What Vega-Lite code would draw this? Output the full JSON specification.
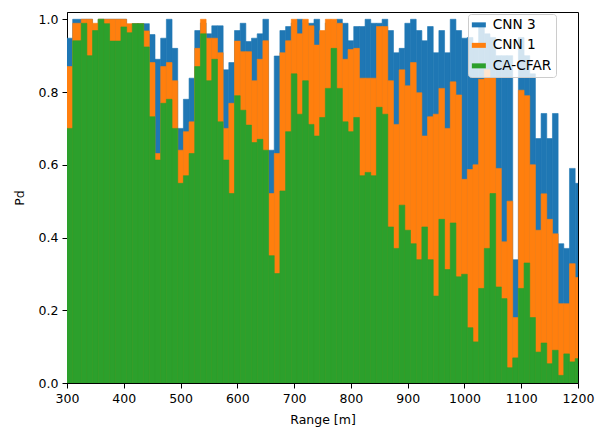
{
  "$schema": "https://vega.github.io/schema/vega-lite/v6.json",
  "autosize": "none",
  "width": 511,
  "height": 371,
  "padding": {"left": 67, "top": 12, "right": 27, "bottom": 52},
  "background": "white",
  "config": {
    "view": {"stroke": "black", "strokeWidth": 1},
    "font": "DejaVu Sans",
    "axis": {
      "labelFont": "DejaVu Sans", "labelFontSize": 12.5, "labelColor": "black", "labelFlush": false,
      "titleFont": "DejaVu Sans", "titleFontSize": 12.5, "titleColor": "black", "titleFontWeight": "normal",
      "domainColor": "black", "tickColor": "black", "tickSize": 5, "labelPadding": 4, "grid": false
    }
  },
  "data": {"values": [
    {"start": 300, "end": 310, "CNN 3": 0.948, "CNN 1": 0.870, "CA-CFAR": 0.700},
    {"start": 310, "end": 325, "CNN 3": 1.0, "CNN 1": 0.989, "CA-CFAR": 0.941},
    {"start": 325, "end": 335, "CNN 3": 1.0, "CNN 1": 1.0, "CA-CFAR": 0.989},
    {"start": 335, "end": 345, "CNN 3": 1.0, "CNN 1": 1.0, "CA-CFAR": 0.90},
    {"start": 345, "end": 355, "CNN 3": 0.985, "CNN 1": 0.989, "CA-CFAR": 0.969},
    {"start": 355, "end": 365, "CNN 3": 1.0, "CNN 1": 1.0, "CA-CFAR": 1.0},
    {"start": 365, "end": 375, "CNN 3": 1.0, "CNN 1": 1.0, "CA-CFAR": 0.988},
    {"start": 375, "end": 385, "CNN 3": 1.0, "CNN 1": 1.0, "CA-CFAR": 0.94},
    {"start": 385, "end": 395, "CNN 3": 1.0, "CNN 1": 1.0, "CA-CFAR": 0.94},
    {"start": 395, "end": 405, "CNN 3": 1.0, "CNN 1": 1.0, "CA-CFAR": 0.979},
    {"start": 405, "end": 415, "CNN 3": 0.98, "CNN 1": 0.988, "CA-CFAR": 0.963},
    {"start": 415, "end": 425, "CNN 3": 0.988, "CNN 1": 0.988, "CA-CFAR": 0.988},
    {"start": 425, "end": 435, "CNN 3": 0.988, "CNN 1": 0.988, "CA-CFAR": 0.988},
    {"start": 435, "end": 445, "CNN 3": 0.988, "CNN 1": 0.968, "CA-CFAR": 0.924},
    {"start": 445, "end": 455, "CNN 3": 0.958, "CNN 1": 0.881, "CA-CFAR": 0.732},
    {"start": 455, "end": 465, "CNN 3": 0.89, "CNN 1": 0.631, "CA-CFAR": 0.613},
    {"start": 465, "end": 475, "CNN 3": 0.948, "CNN 1": 0.870, "CA-CFAR": 0.769},
    {"start": 475, "end": 485, "CNN 3": 1.0, "CNN 1": 0.881, "CA-CFAR": 0.780},
    {"start": 485, "end": 495, "CNN 3": 0.920, "CNN 1": 0.831, "CA-CFAR": 0.700},
    {"start": 495, "end": 505, "CNN 3": 0.700, "CNN 1": 0.640, "CA-CFAR": 0.549},
    {"start": 505, "end": 515, "CNN 3": 0.780, "CNN 1": 0.691, "CA-CFAR": 0.570},
    {"start": 515, "end": 525, "CNN 3": 0.838, "CNN 1": 0.718, "CA-CFAR": 0.631},
    {"start": 525, "end": 535, "CNN 3": 0.969, "CNN 1": 0.920, "CA-CFAR": 0.870},
    {"start": 535, "end": 545, "CNN 3": 0.99, "CNN 1": 1.0, "CA-CFAR": 0.960},
    {"start": 545, "end": 555, "CNN 3": 0.96, "CNN 1": 0.948, "CA-CFAR": 0.831},
    {"start": 555, "end": 565, "CNN 3": 0.982, "CNN 1": 0.948, "CA-CFAR": 0.89},
    {"start": 565, "end": 575, "CNN 3": 0.982, "CNN 1": 0.908, "CA-CFAR": 0.718},
    {"start": 575, "end": 585, "CNN 3": 0.861, "CNN 1": 0.700, "CA-CFAR": 0.613},
    {"start": 585, "end": 595, "CNN 3": 0.881, "CNN 1": 0.769, "CA-CFAR": 0.521},
    {"start": 595, "end": 605, "CNN 3": 0.969, "CNN 1": 0.940, "CA-CFAR": 0.790},
    {"start": 605, "end": 615, "CNN 3": 0.989, "CNN 1": 0.911, "CA-CFAR": 0.750},
    {"start": 615, "end": 625, "CNN 3": 0.939, "CNN 1": 0.911, "CA-CFAR": 0.709},
    {"start": 625, "end": 635, "CNN 3": 0.948, "CNN 1": 0.831, "CA-CFAR": 0.661},
    {"start": 635, "end": 645, "CNN 3": 0.960, "CNN 1": 0.890, "CA-CFAR": 0.670},
    {"start": 645, "end": 655, "CNN 3": 1.0, "CNN 1": 0.941, "CA-CFAR": 0.640},
    {"start": 655, "end": 665, "CNN 3": 0.640, "CNN 1": 0.521, "CA-CFAR": 0.350},
    {"start": 665, "end": 675, "CNN 3": 0.899, "CNN 1": 0.631, "CA-CFAR": 0.301},
    {"start": 675, "end": 685, "CNN 3": 0.969, "CNN 1": 0.908, "CA-CFAR": 0.528},
    {"start": 685, "end": 695, "CNN 3": 0.98, "CNN 1": 0.941, "CA-CFAR": 0.691},
    {"start": 695, "end": 705, "CNN 3": 0.99, "CNN 1": 1.0, "CA-CFAR": 0.85},
    {"start": 705, "end": 715, "CNN 3": 1.0, "CNN 1": 0.960, "CA-CFAR": 0.739},
    {"start": 715, "end": 725, "CNN 3": 0.99, "CNN 1": 1.0, "CA-CFAR": 0.831},
    {"start": 725, "end": 735, "CNN 3": 0.989, "CNN 1": 0.982, "CA-CFAR": 0.711},
    {"start": 735, "end": 745, "CNN 3": 1.0, "CNN 1": 0.929, "CA-CFAR": 0.679},
    {"start": 745, "end": 755, "CNN 3": 0.96, "CNN 1": 0.969, "CA-CFAR": 0.730},
    {"start": 755, "end": 765, "CNN 3": 0.99, "CNN 1": 1.0, "CA-CFAR": 0.81},
    {"start": 765, "end": 775, "CNN 3": 0.99, "CNN 1": 1.0, "CA-CFAR": 0.92},
    {"start": 775, "end": 785, "CNN 3": 1.0, "CNN 1": 0.989, "CA-CFAR": 0.81},
    {"start": 785, "end": 795, "CNN 3": 0.989, "CNN 1": 0.89, "CA-CFAR": 0.718},
    {"start": 795, "end": 805, "CNN 3": 0.941, "CNN 1": 0.917, "CA-CFAR": 0.691},
    {"start": 805, "end": 815, "CNN 3": 0.98, "CNN 1": 0.92, "CA-CFAR": 0.730},
    {"start": 815, "end": 825, "CNN 3": 0.98, "CNN 1": 0.838, "CA-CFAR": 0.570},
    {"start": 825, "end": 835, "CNN 3": 1.0, "CNN 1": 0.838, "CA-CFAR": 0.579},
    {"start": 835, "end": 845, "CNN 3": 0.989, "CNN 1": 0.838, "CA-CFAR": 0.570},
    {"start": 845, "end": 855, "CNN 3": 0.989, "CNN 1": 0.98, "CA-CFAR": 0.758},
    {"start": 855, "end": 865, "CNN 3": 1.0, "CNN 1": 0.98, "CA-CFAR": 0.739},
    {"start": 865, "end": 875, "CNN 3": 0.969, "CNN 1": 0.831, "CA-CFAR": 0.429},
    {"start": 875, "end": 885, "CNN 3": 0.908, "CNN 1": 0.711, "CA-CFAR": 0.370},
    {"start": 885, "end": 895, "CNN 3": 0.92, "CNN 1": 0.861, "CA-CFAR": 0.489},
    {"start": 895, "end": 905, "CNN 3": 0.989, "CNN 1": 0.817, "CA-CFAR": 0.42},
    {"start": 905, "end": 915, "CNN 3": 1.0, "CNN 1": 0.881, "CA-CFAR": 0.383},
    {"start": 915, "end": 925, "CNN 3": 0.969, "CNN 1": 0.798, "CA-CFAR": 0.339},
    {"start": 925, "end": 935, "CNN 3": 0.941, "CNN 1": 0.679, "CA-CFAR": 0.429},
    {"start": 935, "end": 945, "CNN 3": 0.98, "CNN 1": 0.732, "CA-CFAR": 0.339},
    {"start": 945, "end": 955, "CNN 3": 0.908, "CNN 1": 0.739, "CA-CFAR": 0.239},
    {"start": 955, "end": 965, "CNN 3": 0.969, "CNN 1": 0.81, "CA-CFAR": 0.45},
    {"start": 965, "end": 975, "CNN 3": 0.908, "CNN 1": 0.700, "CA-CFAR": 0.312},
    {"start": 975, "end": 985, "CNN 3": 1.0, "CNN 1": 0.828, "CA-CFAR": 0.44},
    {"start": 985, "end": 995, "CNN 3": 0.969, "CNN 1": 0.792, "CA-CFAR": 0.292},
    {"start": 995, "end": 1005, "CNN 3": 0.948, "CNN 1": 0.56, "CA-CFAR": 0.299},
    {"start": 1005, "end": 1015, "CNN 3": 0.95, "CNN 1": 0.587, "CA-CFAR": 0.152},
    {"start": 1015, "end": 1025, "CNN 3": 0.93, "CNN 1": 0.60, "CA-CFAR": 0.113},
    {"start": 1025, "end": 1035, "CNN 3": 0.98, "CNN 1": 0.835, "CA-CFAR": 0.26},
    {"start": 1035, "end": 1045, "CNN 3": 0.96, "CNN 1": 0.861, "CA-CFAR": 0.37},
    {"start": 1045, "end": 1055, "CNN 3": 0.95, "CNN 1": 0.84, "CA-CFAR": 0.521},
    {"start": 1055, "end": 1065, "CNN 3": 0.90, "CNN 1": 0.59, "CA-CFAR": 0.264},
    {"start": 1065, "end": 1075, "CNN 3": 0.90, "CNN 1": 0.388, "CA-CFAR": 0.232},
    {"start": 1075, "end": 1085, "CNN 3": 0.90, "CNN 1": 0.50, "CA-CFAR": 0.042},
    {"start": 1085, "end": 1095, "CNN 3": 0.339, "CNN 1": 0.18, "CA-CFAR": 0.069},
    {"start": 1095, "end": 1105, "CNN 3": 0.95, "CNN 1": 0.805, "CA-CFAR": 0.26},
    {"start": 1105, "end": 1115, "CNN 3": 0.9, "CNN 1": 0.79, "CA-CFAR": 0.33},
    {"start": 1115, "end": 1125, "CNN 3": 0.85, "CNN 1": 0.6, "CA-CFAR": 0.18},
    {"start": 1125, "end": 1135, "CNN 3": 0.672, "CNN 1": 0.42, "CA-CFAR": 0.085},
    {"start": 1135, "end": 1145, "CNN 3": 0.741, "CNN 1": 0.52, "CA-CFAR": 0.11},
    {"start": 1145, "end": 1155, "CNN 3": 0.672, "CNN 1": 0.45, "CA-CFAR": 0.053},
    {"start": 1155, "end": 1165, "CNN 3": 0.741, "CNN 1": 0.41, "CA-CFAR": 0.09},
    {"start": 1165, "end": 1175, "CNN 3": 0.383, "CNN 1": 0.218, "CA-CFAR": 0.021},
    {"start": 1175, "end": 1185, "CNN 3": 0.37, "CNN 1": 0.218, "CA-CFAR": 0.08},
    {"start": 1185, "end": 1195, "CNN 3": 0.59, "CNN 1": 0.328, "CA-CFAR": 0.058},
    {"start": 1195, "end": 1200, "CNN 3": 0.549, "CNN 1": 0.29, "CA-CFAR": 0.067}
  ]},
  "transform": [{"fold": ["CNN 3", "CNN 1", "CA-CFAR"], "as": ["series", "pd"]}],
  "mark": {"type": "bar", "clip": true, "orient": "vertical", "strokeWidth": 0.6},
  "encoding": {
    "x": {"field": "start", "type": "quantitative", "title": "Range [m]",
      "scale": {"domain": [300, 1200], "nice": false, "zero": false, "padding": 0},
      "axis": {"values": [300, 400, 500, 600, 700, 800, 900, 1000, 1100, 1200], "format": "d", "titlePadding": 9}},
    "x2": {"field": "end"},
    "y": {"field": "pd", "type": "quantitative", "stack": null, "title": "Pd",
      "scale": {"domain": [0, 1.02], "nice": false, "padding": 0},
      "axis": {"values": [0, 0.2, 0.4, 0.6, 0.8, 1.0], "format": ".1f", "titlePadding": 12}},
    "y2": {"datum": 0},
    "order": {"field": "series", "sort": "descending"},
    "color": {"field": "series", "type": "nominal",
      "scale": {"domain": ["CNN 3", "CNN 1", "CA-CFAR"], "range": ["#1f77b4", "#ff7f0e", "#2ca02c"]},
      "legend": {"title": null, "orient": "none", "legendX": 401, "legendY": 2,
        "fillColor": "rgba(255,255,255,0.8)", "strokeColor": "#cccccc", "cornerRadius": 3, "padding": 4,
        "symbolType": "M-1.4,-0.5H1.4V0.5H-1.4Z", "symbolSize": 100, "symbolStrokeWidth": 0, "symbolOpacity": 1,
        "labelFont": "DejaVu Sans", "labelFontSize": 13.7, "labelColor": "black", "rowPadding": 5.5, "labelOffset": 7}},
    "stroke": {"field": "series", "type": "nominal", "legend": null,
      "scale": {"domain": ["CNN 3", "CNN 1", "CA-CFAR"], "range": ["#1f77b4", "#ff7f0e", "#2ca02c"]}}
  }
}
